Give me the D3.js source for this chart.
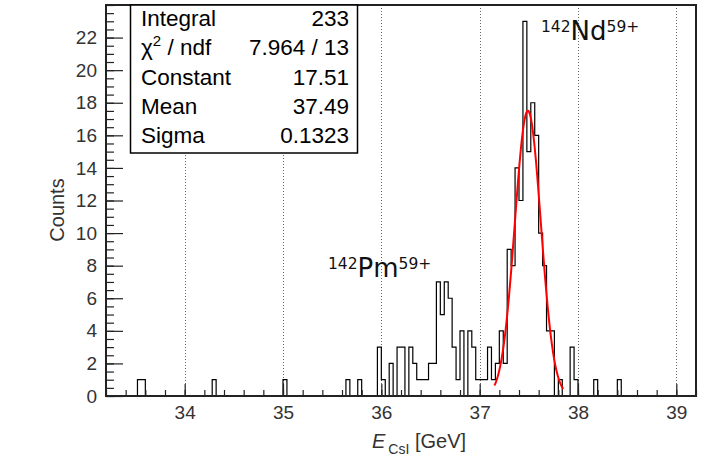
<!DOCTYPE html>
<html>
<head>
<meta charset="utf-8">
<script src="https://cdn.jsdelivr.net/npm/d3@7"></script>
<style>
  body { margin: 0; background: #fff; }
  text { font-family: "Liberation Sans", Arial, Helvetica, sans-serif; }
</style>
</head>
<body>
<script>
// histogram: 150 bins of 0.04 GeV from 33.2 to 39.2
var binLow = 33.2;
var binWidth = 0.04;
var counts = [
    0,0,0,0,0,0,0,0,1,1,0,0,0,0,0,0,0,0,0,0,0,0,0,0,0,
    0,0,1,0,0,0,0,0,0,0,0,0,0,0,0,0,0,0,0,0,1,0,0,0,0,
    0,0,0,0,0,0,0,0,0,0,0,1,0,0,1,0,0,0,0,3,1,0,2,0,3,
    3,0,3,2,1,1,1,2,2,7,5,7,6,3,1,4,0,4,3,1,1,1,3,1,2,
    4,2,9,8,14,12,23,15,18,16,10,8,4,4,0,1,0,0,3,1,0,0,0,0,1,
    0,0,0,0,0,1,0,0,0,0,0,0,0,0,0,0,0,0,0,0,0,0,0,0,0
];

var xTicks = [34, 35, 36, 37, 38, 39];
var yTicks = [0, 2, 4, 6, 8, 10, 12, 14, 16, 18, 20, 22];

// gaus fit results
var fitConstant = 17.51;
var fitMean = 37.49;
var fitSigma = 0.1323;
var fitRange = [37.15, 37.85];

var statLabels = ["Integral", "χ2 / ndf", "Constant", "Mean", "Sigma"];
var statValues = ["233", "7.964 / 13", "17.51", "37.49", "0.1323"];

var width = 710, height = 460;
var pLeft = 106, pRight = 696, pTop = 5, pBottom = 396;

var x = d3.scaleLinear().domain([33.2, 39.2]).range([pLeft, pRight]);
var y = d3.scaleLinear().domain([0, 24]).range([pBottom, pTop]);

var svg = d3.select("body").append("svg")
    .attr("width", width)
    .attr("height", height);

// dotted grid
svg.append("g")
    .selectAll("line")
    .data(xTicks)
    .enter()
    .append("line")
    .attr("x1", (d) => Math.round(x(d)) + 0.5)
    .attr("x2", (d) => Math.round(x(d)) + 0.5)
    .attr("y1", pTop)
    .attr("y2", pBottom)
    .attr("stroke", "#666")
    .attr("stroke-width", 1)
    .attr("stroke-dasharray", "1,2");

// histogram outline
var pts = counts.map((c, i) => [binLow + i * binWidth, c]);
pts.push([binLow + counts.length * binWidth, counts[counts.length - 1]]);

var histLine = d3.line()
    .x((d) => x(d[0]))
    .y((d) => y(d[1]))
    .curve(d3.curveStepAfter);

svg.append("path")
    .attr("d", histLine(pts))
    .attr("fill", "none")
    .attr("stroke", "#000")
    .attr("stroke-width", 1.2);

// fit curve
var fitPts = d3.range(fitRange[0], fitRange[1] + 0.0001, 0.005).map((e) => {
    var z = (e - fitMean) / fitSigma;
    return [e, fitConstant * Math.exp(-0.5 * z * z)];
});
svg.append("path")
    .attr("d", d3.line().x((d) => x(d[0])).y((d) => y(d[1]))(fitPts))
    .attr("fill", "none")
    .attr("stroke", "#ff0000")
    .attr("stroke-width", 2);

// axes with inward ticks
var xMajor = svg.append("g")
    .attr("transform", "translate(0," + pBottom + ")")
    .call(d3.axisBottom(x).tickValues(xTicks).tickFormat(d3.format("d"))
        .tickSizeInner(-12).tickSizeOuter(0).tickPadding(10));
var xMinor = svg.append("g")
    .attr("transform", "translate(0," + pBottom + ")")
    .call(d3.axisBottom(x).ticks(30).tickSizeInner(-6).tickSizeOuter(0).tickFormat(""));
var yMajor = svg.append("g")
    .attr("transform", "translate(" + pLeft + ",0)")
    .call(d3.axisLeft(y).tickValues(yTicks).tickFormat(d3.format("d"))
        .tickSizeInner(-17).tickSizeOuter(0).tickPadding(9));
var yMinor = svg.append("g")
    .attr("transform", "translate(" + pLeft + ",0)")
    .call(d3.axisLeft(y).ticks(48).tickSizeInner(-8).tickSizeOuter(0).tickFormat(""));

[xMajor, xMinor, yMajor, yMinor].forEach((g) => {
    g.select(".domain").remove();
    g.selectAll("line").attr("stroke", "#222").attr("stroke-width", 1.2);
    g.selectAll("text")
        .style("font-family", "'Liberation Sans', Arial, sans-serif")
        .attr("font-size", "19px")
        .attr("fill", "#333");
});

// frame
svg.append("rect")
    .attr("x", pLeft)
    .attr("y", pTop)
    .attr("width", pRight - pLeft)
    .attr("height", pBottom - pTop)
    .attr("fill", "none")
    .attr("stroke", "#222")
    .attr("stroke-width", 2);

// stats box
var box = svg.append("g");
box.append("rect")
    .attr("x", 130.5)
    .attr("y", pTop)
    .attr("width", 227)
    .attr("height", 148)
    .attr("fill", "#fff")
    .attr("stroke", "#000")
    .attr("stroke-width", 1.5);

statLabels.forEach((lab, i) => {
    var by = 26 + i * 29.3;
    var t = box.append("text")
        .attr("x", 141)
        .attr("y", by)
        .attr("font-size", "22.5px")
        .attr("fill", "#000");
    if (lab.indexOf("χ2") === 0) {
        t.append("tspan").text("χ");
        t.append("tspan").attr("font-size", "15px").attr("dy", -9).text("2");
        t.append("tspan").attr("dy", 9).text(" / ndf");
    } else {
        t.text(lab);
    }
    box.append("text")
        .attr("x", 349)
        .attr("y", by)
        .attr("text-anchor", "end")
        .attr("font-size", "22.5px")
        .attr("fill", "#000")
        .text(statValues[i]);
});

// peak labels
function isotope(px, py, mass, sym, charge) {
    var t = svg.append("text")
        .attr("x", px)
        .attr("y", py)
        .style("font-family", "'DejaVu Sans', sans-serif")
        .attr("font-size", "26px")
        .attr("fill", "#111");
    t.append("tspan").attr("font-size", "15.5px").attr("dy", -8).text(mass);
    t.append("tspan").attr("dy", 8).text(sym);
    t.append("tspan").attr("font-size", "15.5px").attr("dy", -8).text(charge);
}
isotope(541, 40, "142", "Nd", "59+");
isotope(328, 277, "142", "Pm", "59+");

// axis titles
svg.append("text")
    .attr("transform", "translate(64,210) rotate(-90)")
    .attr("text-anchor", "middle")
    .attr("font-size", "20px")
    .attr("fill", "#333")
    .text("Counts");

var xt = svg.append("text")
    .attr("x", 372)
    .attr("y", 448)
    .attr("font-size", "20px")
    .attr("fill", "#333");
xt.append("tspan").attr("font-style", "italic").text("E");
xt.append("tspan").attr("font-size", "14px").attr("dx", 3).attr("dy", 6).text("CsI");
xt.append("tspan").attr("dy", -6).text(" [GeV]");
</script>
</body>
</html>
